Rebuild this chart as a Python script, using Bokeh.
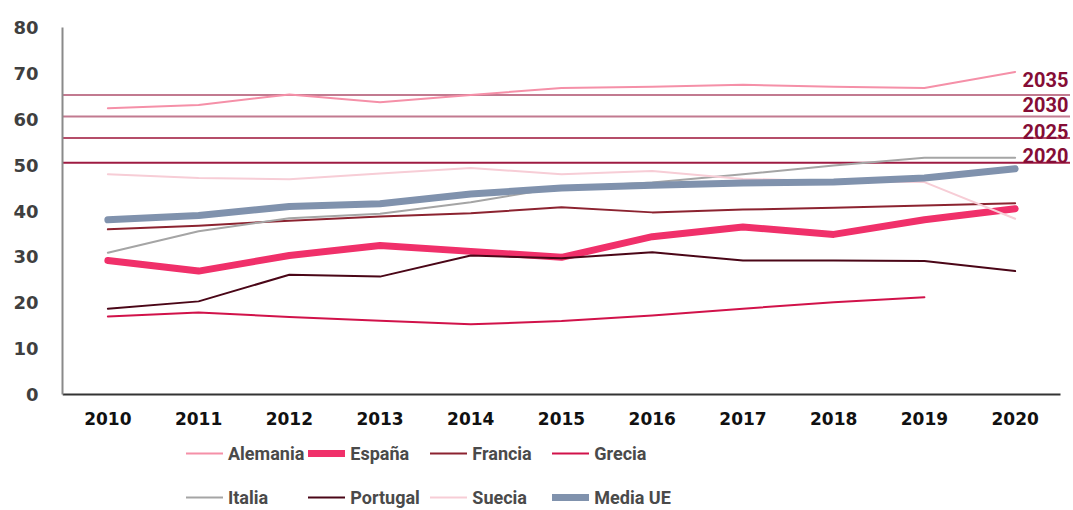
import numpy as np
from bokeh.plotting import figure
from bokeh.models import ColumnDataSource, Span, Legend, LegendItem, Range1d, FixedTicker
from bokeh.core.properties import value
from bokeh.embed import file_html
from bokeh.resources import INLINE

years = [2010, 2011, 2012, 2013, 2014, 2015, 2016, 2017, 2018, 2019, 2020]
alemania = [62.4, 63.1, 65.4, 63.7, 65.3, 66.8, 67.1, 67.5, 67.1, 66.8, 70.3]
espana = [29.2, 26.9, 30.3, 32.5, 31.2, 29.9, 34.4, 36.5, 34.9, 38.1, 40.5]
francia = [36.0, 36.8, 37.9, 38.8, 39.5, 40.8, 39.7, 40.3, 40.7, 41.2, 41.7]
grecia = [17.0, 17.9, 16.9, 16.1, 15.3, 16.0, 17.2, 18.7, 20.1, 21.2, np.nan]
italia = [30.9, 35.6, 38.4, 39.4, 41.9, 45.2, 46.2, 48.0, 49.9, 51.6, 51.6]
portugal = [18.7, 20.3, 26.1, 25.7, 30.3, 29.7, 31.0, 29.2, 29.2, 29.1, 26.9]
suecia = [48.0, 47.2, 46.9, 48.2, 49.4, 48.0, 48.7, 47.0, 46.5, 46.3, 38.3]
media_ue = [38.1, 39.0, 41.0, 41.6, 43.7, 45.0, 45.6, 46.1, 46.3, 47.2, 49.2]

target_labels = ["2035", "2030", "2025", "2020"]
target_values = [65.3, 60.6, 55.9, 50.5]

series = [
    ("Alemania", alemania, "#f590a8", 2),
    ("España", espana, "#f0306a", 7),
    ("Francia", francia, "#8c2330", 2),
    ("Grecia", grecia, "#d1124a", 2),
    ("Italia", italia, "#a5a5a5", 2),
    ("Portugal", portugal, "#4a0617", 2),
    ("Suecia", suecia, "#f7cdd6", 2),
    ("Media UE", media_ue, "#8092ad", 7),
]

W, H = 1070, 508
LEFT, TOP, ZERO_Y = 62, 27, 394
px_per_unit_y = (ZERO_Y - TOP) / 80.0
px_per_year = (1060 - LEFT) / 11.0
x_start = 2009.5
x_end = x_start + (W - LEFT) / px_per_year
y_start = -(H - ZERO_Y) / px_per_unit_y

p = figure(width=W, height=H, output_backend="svg", toolbar_location=None,
           x_range=Range1d(x_start, x_end), y_range=Range1d(y_start, 80),
           x_axis_location=None,
           min_border_left=LEFT, min_border_right=0, min_border_top=TOP,
           min_border_bottom=0)
p.outline_line_color = None
p.xgrid.grid_line_color = None
p.ygrid.grid_line_color = None

# target lines
target_colors = ["#c27a90", "#c27a90", "#b54d69", "#9e1b42"]
for v, c in zip(target_values, target_colors):
    p.add_layout(Span(location=v, dimension="width", line_color=c,
                      line_width=2, level="underlay"))

# x axis line at zero, across the category band
p.segment(x0=[x_start], y0=[0], x1=[x_start + len(years)], y1=[0],
          line_color="#333333", line_width=2)

src = ColumnDataSource(dict(year=years, **{name: vals for name, vals, _, _ in series}))
items = []
for name, vals, color, w in series:
    r = p.line(x="year", y=name, source=src, line_color=color, line_width=w,
               line_cap="round", line_join="round")
    items.append(LegendItem(label=name, renderers=[r]))

# x tick labels
xl_src = ColumnDataSource(dict(x=years, y=[0] * len(years), text=[str(y) for y in years]))
p.text(x="x", y="y", text="text", source=xl_src, text_align="center",
       text_baseline="middle", y_offset=24,
       text_font=value("DejaVu Sans"), text_font_style="bold",
       text_font_size="17px", text_color="#111111")

# target labels
lab_src = ColumnDataSource(dict(x=[x_end] * len(target_values), y=target_values,
                                text=target_labels, dy=[-15, -12, -7, -7]))
p.text(x="x", y="y", text="text", source=lab_src, text_align="right",
       text_baseline="middle", x_offset=-2, y_offset="dy",
       text_font=value("Roboto"), text_font_style="bold",
       text_font_size="20px", text_color="#850d36")

p.yaxis.ticker = FixedTicker(ticks=list(range(0, 81, 10)))
p.yaxis.bounds = (0, 80)
p.yaxis.axis_line_color = "#8a8a8a"
p.yaxis.axis_line_width = 2
p.yaxis.major_tick_line_color = None
p.yaxis.minor_tick_line_color = None
p.yaxis.major_label_standoff = 18
p.yaxis.major_label_text_font = "DejaVu Sans"
p.yaxis.major_label_text_font_style = "bold"
p.yaxis.major_label_text_font_size = "18px"
p.yaxis.major_label_text_color = "#3f3f3f"

legend = Legend(items=items, orientation="horizontal", ncols=4,
                location=(186 - LEFT, -9), glyph_width=37, glyph_height=40,
                label_height=40, label_width=76, label_standoff=5, spacing=4,
                padding=0, margin=0, border_line_color=None,
                background_fill_alpha=0,
                label_text_font="Roboto", label_text_font_style="bold",
                label_text_font_size="18px", label_text_color="#4a4a4a")
p.add_layout(legend)

open("out.html", "w").write(file_html(p, INLINE))
